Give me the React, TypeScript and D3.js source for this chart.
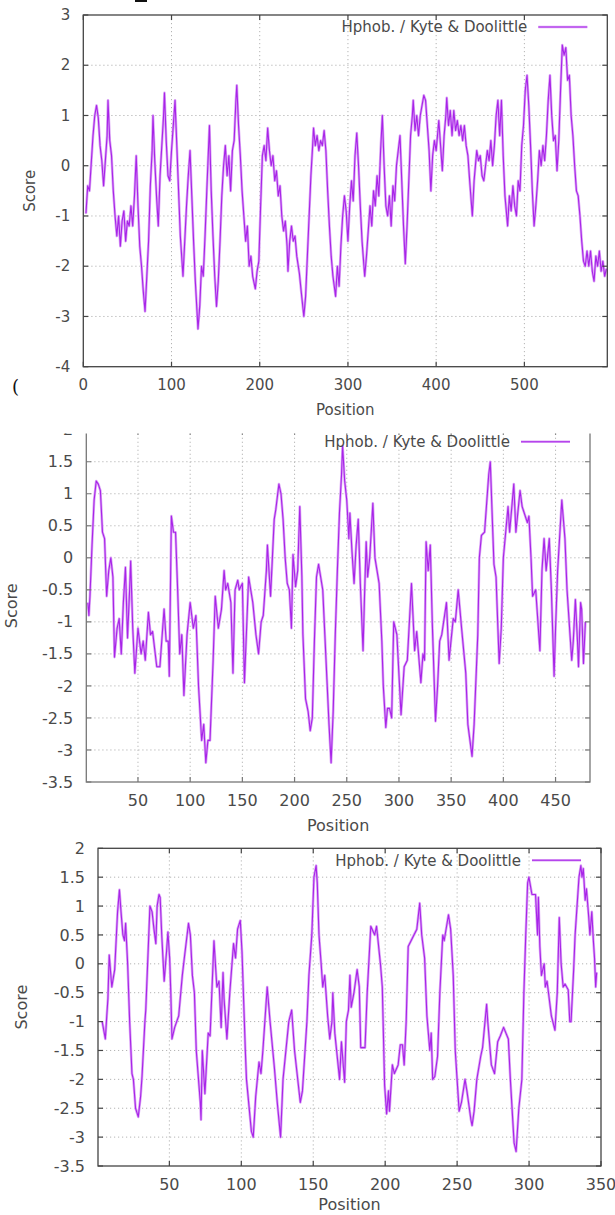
import * as d3 from "d3";

// Kyte & Doolittle hydrophobicity profiles as [position, score] vertices
const profile1: [number, number][] = [
  [3, -0.95], [5, -0.4], [7, -0.5], [9, 0.05], [11, 0.6], [13, 1.0], [15, 1.2], [17, 0.95], [19, 0.4], [21, 0.1],
  [23, -0.4], [25, 0.1], [27, 0.6], [28, 1.3], [30, 0.5], [32, 0.2], [34, -0.5], [36, -1.0], [38, -1.4], [40, -1.0],
  [42, -1.6], [44, -1.1], [46, -0.9], [48, -1.5], [50, -1.1], [52, -1.2], [54, -0.8], [56, -1.2], [58, -0.6], [60, 0.2],
  [62, -0.8], [64, -1.6], [66, -2.0], [68, -2.5], [70, -2.9], [72, -2.2], [74, -1.5], [76, -0.4], [78, 0.3], [79, 1.0],
  [81, 0.1], [83, -0.6], [85, -1.2], [87, -0.2], [89, 0.4], [91, 1.0], [92, 1.45], [94, 0.5], [96, -0.2], [98, -0.3],
  [100, 0.3], [102, 0.8], [104, 1.3], [106, 0.4], [108, -0.5], [110, -1.4], [113, -2.2], [115, -1.5], [117, -0.8], [119, -0.2],
  [121, 0.3], [123, -0.6], [125, -1.5], [127, -2.3], [130, -3.25], [132, -2.8], [134, -2.0], [136, -2.2], [138, -1.4], [140, -0.5],
  [143, 0.8], [145, -0.5], [147, -1.4], [149, -2.2], [151, -2.8], [153, -2.3], [155, -1.5], [157, -0.6], [159, 0.0], [161, 0.4],
  [163, -0.2], [165, 0.2], [167, -0.5], [169, 0.3], [171, 0.5], [173, 1.3], [174, 1.6], [176, 0.8], [178, 0.2], [180, -0.5],
  [182, -1.0], [184, -1.5], [186, -1.2], [188, -2.0], [190, -1.8], [192, -2.2], [195, -2.45], [197, -2.1], [199, -1.9], [201, -0.8],
  [203, 0.2], [205, 0.4], [207, 0.1], [209, 0.75], [211, 0.3], [213, 0.0], [215, 0.2], [217, -0.3], [219, -0.1], [221, -0.6],
  [223, -0.4], [225, -1.0], [227, -1.3], [229, -1.1], [231, -1.6], [232, -2.1], [234, -1.5], [236, -1.2], [238, -1.5], [240, -1.4],
  [242, -1.8], [245, -2.15], [247, -2.5], [250, -3.0], [252, -2.6], [254, -1.8], [256, -1.0], [258, -0.2], [260, 0.4], [261, 0.75],
  [263, 0.4], [265, 0.6], [267, 0.3], [269, 0.5], [271, 0.4], [273, 0.7], [275, 0.3], [277, -0.5], [279, -1.2], [281, -1.8],
  [283, -2.2], [286, -2.6], [288, -2.0], [290, -2.4], [292, -1.6], [294, -1.0], [296, -0.6], [298, -0.9], [300, -1.5], [302, -0.8],
  [304, -0.3], [306, -0.7], [308, 0.2], [310, 0.65], [312, 0.0], [314, -0.8], [316, -1.5], [319, -2.2], [321, -1.8], [323, -1.3],
  [325, -0.8], [327, -1.2], [329, -0.5], [331, -0.8], [333, -0.2], [335, -0.6], [337, 0.3], [339, 1.0], [341, 0.0], [343, -0.8],
  [345, -1.0], [347, -0.6], [349, -1.2], [351, -0.4], [353, -0.7], [355, 0.0], [357, 0.3], [359, 0.6], [361, -0.3], [363, -1.2],
  [365, -1.95], [367, -1.2], [369, -0.3], [371, 0.6], [373, 1.0], [374, 1.3], [376, 0.7], [378, 1.0], [380, 0.6], [382, 1.0],
  [384, 1.2], [386, 1.4], [388, 1.3], [390, 0.8], [392, 0.3], [394, -0.5], [396, 0.2], [398, 0.5], [400, 0.3], [403, 0.9],
  [405, 0.4], [407, -0.1], [409, 0.6], [411, 1.0], [412, 1.35], [414, 0.8], [416, 1.1], [418, 0.6], [420, 1.1], [422, 0.7],
  [424, 0.9], [426, 0.6], [428, 0.8], [430, 0.5], [432, 0.8], [434, 0.4], [436, 0.2], [438, -0.3], [441, -1.0], [443, -0.3],
  [446, 0.3], [448, 0.1], [450, 0.2], [452, -0.2], [454, -0.3], [456, 0.0], [458, 0.3], [460, 0.1], [462, 0.5], [464, 0.0],
  [466, 0.4], [468, 1.0], [470, 1.3], [472, 0.6], [474, 1.3], [476, 0.2], [478, -0.6], [481, -1.2], [483, -0.6], [485, -0.9],
  [487, -0.4], [489, -0.8], [491, -1.0], [493, -0.3], [495, -0.5], [497, 0.4], [499, 0.8], [501, 1.5], [503, 1.8], [505, 1.2],
  [507, 0.4], [509, -0.5], [511, -1.2], [513, -0.8], [515, -0.3], [517, 0.3], [519, 0.0], [521, 0.4], [523, 0.1], [525, 0.6],
  [527, 1.3], [529, 1.8], [531, 1.0], [533, 0.5], [535, 0.6], [537, -0.1], [539, 0.5], [541, 1.5], [543, 2.4], [545, 2.2],
  [547, 2.35], [549, 1.7], [551, 1.8], [553, 1.0], [555, 0.6], [557, 0.0], [559, -0.5], [561, -0.6], [563, -1.0], [565, -1.5],
  [567, -1.9], [569, -2.0], [571, -1.7], [573, -2.0], [575, -1.7], [577, -2.1], [579, -2.3], [581, -1.8], [583, -2.0], [585, -1.7],
  [587, -2.1], [589, -1.9], [591, -2.2], [593, -2.05],
];

const profile2: [number, number][] = [
  [2, -0.7], [3, -0.9], [4, -0.6], [6, 0.2], [8, 0.9], [10, 1.2], [12, 1.15], [14, 1.05], [16, 0.4], [18, 0.3],
  [20, -0.6], [22, -0.2], [24, 0.0], [26, -0.3], [27.5, -1.55], [30, -1.1], [32, -0.95], [34, -1.5], [36, -0.7], [38, -0.15],
  [40, -1.25], [42, -0.5], [43, -0.05], [45, -1.1], [47, -1.8], [50, -1.1], [53, -1.5], [55, -1.3], [57, -1.6], [60, -0.85],
  [62, -1.2], [64, -1.15], [68, -1.7], [71, -1.7], [75, -0.8], [77, -1.3], [79, -1.3], [80, -1.85], [82, 0.65], [84, 0.4],
  [86, 0.4], [88, -0.5], [90, -1.5], [92, -1.2], [94, -2.15], [97, -1.2], [100, -0.7], [103, -1.1], [105.5, -0.9], [108, -2.0],
  [111, -2.85], [113, -2.6], [115, -3.2], [117, -2.85], [119, -2.85], [122, -1.6], [124, -0.6], [127, -1.1], [130, -0.8], [132.5, -0.2],
  [134, -0.5], [136, -0.4], [139, -0.7], [141, -1.8], [143, -0.5], [145.6, -0.35], [147, -0.5], [150, -0.4], [152, -1.95], [156, -0.3],
  [160, -0.7], [163, -1.2], [165.5, -1.5], [168, -1.0], [170, -0.9], [173, -0.2], [174, 0.2], [177, -0.6], [180.5, 0.6], [182, 0.75],
  [185, 1.15], [187, 1.0], [189, 0.6], [191, 0.0], [193, -0.4], [195, -0.5], [197, -1.1], [198.5, 0.05], [201, -0.45], [203, -0.2],
  [205, 0.8], [207, -0.3], [208, -1.2], [210.5, -2.2], [213, -2.4], [215, -2.7], [217, -2.5], [219, -1.3], [221, -0.3], [223, -0.1],
  [225, -0.3], [227, -0.5], [229, -1.2], [231, -1.9], [233, -2.6], [235, -3.2], [237, -2.4], [239, -1.2], [241, -0.2], [243, 0.7],
  [245, 1.3], [246, 1.75], [248, 1.2], [250, 0.9], [252, 0.3], [253, 0.7], [255, 0.1], [257, -0.4], [259, 0.2], [261, 0.6],
  [263, -0.4], [265.6, -1.45], [267, -0.6], [268.6, 0.25], [270, -0.3], [272, 0.0], [275, 0.85], [277, 0.0], [279, -0.2], [281, -0.4],
  [283.6, -1.3], [285, -2.0], [287.4, -2.65], [289, -2.35], [291, -2.35], [293, -2.5], [295, -1.0], [298, -1.2], [302, -2.45], [305, -1.7],
  [308, -1.6], [312, -0.4], [315, -1.45], [317, -1.15], [321, -1.95], [323, -1.5], [324.5, -1.6], [326, 0.25], [328, -0.2], [330, 0.2],
  [332, -1.05], [335, -2.55], [337, -2.0], [339, -1.3], [341, -1.2], [345.5, -0.7], [348, -1.6], [352, -0.95], [354, -1.0], [356.75, -0.5],
  [360, -1.1], [364, -1.8], [366, -2.6], [370, -3.1], [372, -2.6], [375.5, -1.2], [377, 0.0], [379, 0.35], [382, 0.4], [386, 1.3],
  [387.5, 1.5], [389, 0.8], [391, -0.1], [393, -0.3], [396, -1.65], [398, -1.1], [400, 0.0], [404.5, 0.8], [406, 0.4], [410, 1.15],
  [412, 0.4], [416, 1.05], [418, 0.8], [420, 0.7], [423, 0.55], [424.5, 0.65], [426.5, 0.0], [428, -0.6], [431, -0.5], [435, -1.45],
  [437, -0.2], [439, 0.3], [441, -0.2], [444, 0.3], [446, -0.5], [448.6, -1.85], [450, -1.1], [452, -0.2], [456, 0.9], [459, 0.3],
  [461, -0.5], [465.5, -1.6], [467, -1.3], [469, -0.65], [471, -1.3], [472, -1.7], [474, -0.7], [475, -0.8], [476.75, -1.65], [478.6, -1.0],
];

const profile3: [number, number][] = [
  [3.3, -1.0], [5.5, -1.3], [6.5, -0.9], [7.3, -0.6], [8.2, 0.15], [10, -0.4], [12, -0.1], [14, 0.9], [15.3, 1.28], [16.4, 0.9],
  [17.7, 0.5], [18.8, 0.4], [19.6, 0.7], [21, 0.0], [22.4, -1.0], [24, -1.9], [25, -2.0], [26.5, -2.5], [28.4, -2.65], [30, -2.3],
  [31, -1.95], [33, -1.0], [33.6, -0.8], [36.5, 1.0], [38, 0.9], [39.3, 0.6], [40.6, 0.35], [41.5, 1.0], [42.8, 1.2], [43.6, 1.15],
  [44.7, 0.5], [46.4, -0.3], [48, 0.2], [49, 0.55], [50.2, 0.1], [51, -0.5], [51.8, -1.3], [53.7, -1.1], [56.5, -0.9], [59, -0.2],
  [60.4, 0.1], [63.3, 0.7], [64.6, 0.5], [66, -0.2], [67.4, -0.5], [68.7, -1.5], [71.5, -2.4], [72, -2.7], [72.9, -1.5], [74.7, -2.25],
  [77, -1.2], [78.3, -1.25], [81, 0.4], [83, -0.4], [84.5, -0.3], [86, -1.1], [87.3, -0.15], [88, -0.6], [90, -1.3], [92, -0.5],
  [94.6, 0.35], [96, 0.1], [97.4, 0.6], [99.3, 0.75], [100.5, 0.2], [102.8, -1.5], [103.6, -2.0], [107, -2.9], [108.3, -3.0], [110, -2.3],
  [112.3, -1.7], [113.7, -1.9], [115, -1.5], [118, -0.4], [120, -1.0], [123, -1.8], [125, -2.4], [127.3, -3.0], [129, -2.0], [133, -1.0],
  [135, -0.8], [137, -1.5], [141, -2.4], [142.5, -2.2], [145.6, -1.0], [147, -0.2], [149, 0.5], [150.5, 1.5], [152, 1.7], [152.8, 1.4],
  [154, 0.5], [155.5, 0.0], [156.6, -0.4], [158, -0.2], [160, -0.9], [161.5, -1.3], [163, -1.0], [163.6, -0.5], [165, -1.2], [168.3, -2.0],
  [169.6, -1.35], [171.8, -2.05], [173, -1.0], [174.5, -0.8], [175.5, -0.2], [176.4, -0.75], [178.3, -0.5], [180.5, -0.1], [182, -0.4], [183, -1.45],
  [186, -1.45], [187.5, -0.5], [190, 0.65], [192.7, 0.5], [194, 0.65], [196.7, 0.0], [198, -0.4], [199.6, -2.1], [201, -2.6], [202.3, -2.2],
  [203, -2.55], [205, -1.75], [206.4, -1.9], [209, -1.75], [210.5, -1.4], [212, -1.4], [213.2, -1.75], [214.6, -1.0], [216, 0.3], [220, 0.5],
  [222, 0.6], [224, 1.05], [225.4, 0.5], [227.4, 0.1], [229, -0.9], [231, -1.5], [232, -1.2], [233, -2.0], [234.5, -1.95], [236.4, -1.6],
  [238, -0.5], [240, 0.5], [241, 0.4], [244, 0.85], [245.5, 0.6], [247.3, -0.2], [248.7, -1.5], [251.4, -2.55], [253, -2.4], [255.5, -2.0],
  [256.8, -2.2], [259.6, -2.7], [260.4, -2.8], [261.8, -2.55], [263.7, -2.0], [266.4, -1.6], [267.7, -1.45], [270.5, -0.7], [271.3, -1.0], [273.8, -1.75],
  [276, -1.9], [278.2, -1.35], [280, -1.25], [282.3, -1.1], [285.6, -1.3], [287, -2.0], [289.6, -3.1], [291, -3.25], [292.9, -2.5], [295, -2.0],
  [296.4, -0.5], [297.7, 0.5], [299, 1.4], [299.9, 1.5], [302, 1.2], [304.5, 1.2], [305.9, 0.5], [306.5, 1.15], [307.5, 0.3], [308.6, -0.2],
  [310.5, 0.0], [311.3, -0.4], [312.5, -0.3], [314, -0.6], [315.5, -0.9], [318, -1.15], [319.6, -0.5], [321, 0.8], [322.3, 0.0], [323.7, -0.4],
  [325, -0.35], [327.2, -0.45], [328.3, -1.0], [329.2, -1.0], [331, -0.1], [332, 0.5], [334.7, 1.5], [336, 1.7], [336.8, 1.5], [337.7, 1.65],
  [339, 1.1], [339.9, 1.3], [341.5, 0.8], [342.3, 0.5], [343.6, 0.9], [344.7, 0.4], [345.5, 0.1], [346.3, -0.4], [347, -0.15],
];

const xTicks1 = [0, 100, 200, 300, 400, 500];
const yTicks1 = [-4, -3, -2, -1, 0, 1, 2, 3];
const xTicks2 = [50, 100, 150, 200, 250, 300, 350, 400, 450];
const yTicks2 = [-3.5, -3, -2.5, -2, -1.5, -1, -0.5, 0, 0.5, 1, 1.5, 2];
const xTicks3 = [50, 100, 150, 200, 250, 300, 350];
const yTicks3 = [-3.5, -3, -2.5, -2, -1.5, -1, -0.5, 0, 0.5, 1, 1.5, 2];

const legendLabel = "Hphob. / Kyte & Doolittle";
const xTitle = "Position";
const yTitle = "Score";

// the scanned line is blurred: a soft light halo round a saturated core
const lineHalo = "#dca6f6";
const lineCore = "#a824e8";
const textColor = "#4a4a4a";
const font = "DejaVu Sans, sans-serif";

type PanelProps = {
  id: string;
  data: [number, number][];
  xTicks: number[];
  yTicks: number[];
  xDomain: [number, number];
  yDomain: [number, number];
  left: number;
  right: number;
  top: number;
  bottom: number;
  fontSize: number;
  scoreX: number;
  titleGap: number;
  borderColor: string;
  clipTop?: number;
};

function Panel(p: PanelProps) {
  const x = d3.scaleLinear().domain(p.xDomain).range([p.left, p.right]);
  const y = d3.scaleLinear().domain(p.yDomain).range([p.bottom, p.top]);
  const line = d3
    .line<[number, number]>()
    .x((d) => x(d[0]))
    .y((d) => y(d[1]));
  const tick = 5;
  const clipId = `clip-${p.id}`;
  const clipTop = p.clipTop ?? 0;
  const path = line(p.data) ?? "";

  return (
    <g clipPath={`url(#${clipId})`} fontFamily={font} fill={textColor}>
      <defs>
        <clipPath id={clipId}>
          <rect x={0} y={clipTop} width={615} height={1215 - clipTop} />
        </clipPath>
      </defs>

      {/* grid */}
      {p.xTicks
        .filter((t) => x(t) > p.left + 1 && x(t) < p.right - 1)
        .map((t) => (
          <line
            key={`gx${t}`}
            x1={x(t)}
            x2={x(t)}
            y1={p.top}
            y2={p.bottom}
            stroke="#b4b4b4"
            strokeWidth={1}
            strokeDasharray="1.2 2.8"
          />
        ))}
      {p.yTicks
        .filter((t) => y(t) > p.top + 1 && y(t) < p.bottom - 1)
        .map((t) => (
          <line
            key={`gy${t}`}
            x1={p.left}
            x2={p.right}
            y1={y(t)}
            y2={y(t)}
            stroke="#b4b4b4"
            strokeWidth={1}
            strokeDasharray="1.2 2.8"
          />
        ))}

      {/* profile */}
      <path d={path} fill="none" stroke={lineHalo} strokeWidth={2.6} strokeLinejoin="round" />
      <path d={path} fill="none" stroke={lineCore} strokeWidth={1.1} strokeLinejoin="round" />

      {/* border and ticks */}
      <rect
        x={p.left}
        y={p.top}
        width={p.right - p.left}
        height={p.bottom - p.top}
        fill="none"
        stroke={p.borderColor}
        strokeWidth={1.3}
      />
      {p.xTicks.map((t) => (
        <g key={`tx${t}`} stroke={p.borderColor} strokeWidth={1.2}>
          <line x1={x(t)} x2={x(t)} y1={p.bottom} y2={p.bottom - tick} />
          <line x1={x(t)} x2={x(t)} y1={p.top} y2={p.top + tick} />
        </g>
      ))}
      {p.yTicks.map((t) => (
        <g key={`ty${t}`} stroke={p.borderColor} strokeWidth={1.2}>
          <line x1={p.left} x2={p.left + tick} y1={y(t)} y2={y(t)} />
          <line x1={p.right} x2={p.right - tick} y1={y(t)} y2={y(t)} />
        </g>
      ))}

      {/* tick labels */}
      {p.xTicks.map((t) => (
        <text
          key={`lx${t}`}
          x={x(t)}
          y={p.bottom + 18}
          dy="0.35em"
          textAnchor="middle"
          fontSize={p.fontSize}
        >
          {String(t)}
        </text>
      ))}
      {p.yTicks.map((t) => (
        <text
          key={`ly${t}`}
          x={p.left - 13}
          y={y(t)}
          dy="0.35em"
          textAnchor="end"
          fontSize={p.fontSize}
        >
          {String(t)}
        </text>
      ))}

      {/* titles */}
      <text
        x={(p.left + p.right) / 2}
        y={p.bottom + p.titleGap}
        dy="0.35em"
        textAnchor="middle"
        fontSize={p.fontSize}
      >
        {xTitle}
      </text>
      <text
        transform={`translate(${p.scoreX},${(p.top + p.bottom) / 2}) rotate(-90)`}
        dy="0.35em"
        textAnchor="middle"
        fontSize={p.fontSize}
      >
        {yTitle}
      </text>

      {/* legend */}
      <text
        x={p.right - 80}
        y={p.top + 12}
        dy="0.35em"
        textAnchor="end"
        fontSize={15}
      >
        {legendLabel}
      </text>
      <line
        x1={p.right - 69}
        x2={p.right - 20}
        y1={p.top + 12}
        y2={p.top + 12}
        stroke={lineHalo}
        strokeWidth={2.6}
      />
      <line
        x1={p.right - 69}
        x2={p.right - 20}
        y1={p.top + 12}
        y2={p.top + 12}
        stroke={lineCore}
        strokeWidth={1.1}
      />
    </g>
  );
}

export default function App() {
  return (
    <svg
      width={615}
      height={1215}
      viewBox="0 0 615 1215"
      style={{ position: "absolute", left: 0, top: 0, background: "#fff" }}
    >
      <rect x={0} y={0} width={615} height={1215} fill="#fff" />
      <rect x={135} y={0} width={12} height={2} fill="#111" />
      <text x={12} y={393} fontFamily="DejaVu Serif, serif" fontSize={18} fill="#111">
        (
      </text>

      <Panel
        id="p1"
        data={profile1}
        xTicks={xTicks1}
        yTicks={yTicks1}
        xDomain={[0, 594]}
        yDomain={[-4, 3]}
        left={83.3}
        right={607.3}
        top={15}
        bottom={366.7}
        fontSize={15}
        scoreX={30}
        titleGap={43}
        borderColor="#444"
      />
      <Panel
        id="p2"
        data={profile2}
        xTicks={xTicks2}
        yTicks={yTicks2}
        xDomain={[0.5, 483]}
        yDomain={[-3.5, 2]}
        left={86.3}
        right={590}
        top={429.7}
        bottom={782}
        fontSize={16}
        scoreX={11}
        titleGap={43}
        borderColor="#777"
        clipTop={433.5}
      />
      <Panel
        id="p3"
        data={profile3}
        xTicks={xTicks3}
        yTicks={yTicks3}
        xDomain={[0.4, 350]}
        yDomain={[-3.5, 2]}
        left={98}
        right={601}
        top={848.3}
        bottom={1166}
        fontSize={16}
        scoreX={21.5}
        titleGap={38}
        borderColor="#444"
      />
    </svg>
  );
}
